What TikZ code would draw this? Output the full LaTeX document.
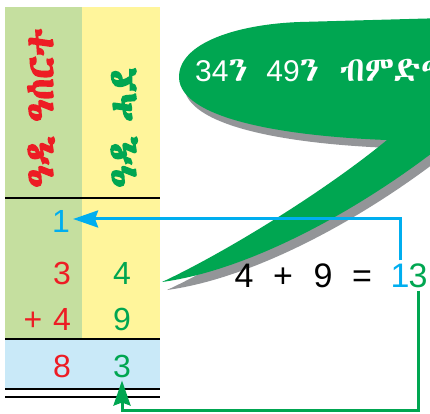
\documentclass[tikz,border=0pt]{standalone}
\usepackage{fontspec}
\setmainfont{Liberation Sans}
\newfontfamily\eth{Abyssinica SIL}[Scale=1.15]
\newfontfamily\ethb{Abyssinica SIL}[FakeBold=4]
\definecolor{colgreen}{HTML}{C5DF9F}
\definecolor{colyellow}{HTML}{FFF59B}
\definecolor{colblue}{HTML}{C9E9F8}
\definecolor{myred}{HTML}{ED1C24}
\definecolor{mygreen}{HTML}{00A651}
\definecolor{mycyan}{HTML}{00AEEF}
\definecolor{shadowgrey}{HTML}{939598}
\usetikzlibrary{arrows.meta}
\begin{document}
\begin{tikzpicture}[x=1pt,y=-1pt,
  rule/.style={line width=2pt,black},
  digit/.style={anchor=base,inner sep=3pt,font=\fontsize{32}{32}\selectfont},
  eqdigit/.style={anchor=base,inner sep=3pt,font=\fontsize{34}{34}\selectfont},
  header/.style={rotate=90,anchor=base west,inner sep=0pt,font=\fontsize{38}{38}\ethb},
  bluearrow/.style={mycyan,line width=3pt,-{Stealth[length=25pt,width=17pt,inset=3pt]}},
  greenarrow/.style={mygreen,line width=3pt,-{Stealth[length=25pt,width=17pt,inset=3pt]}},
  bubble/.style={fill=mygreen},
  bubbleshadow/.style={fill=shadowgrey}]
\useasboundingbox (0,0) rectangle (430,413);
\clip (0,0) rectangle (430,413);

% columns
\fill[colgreen] (5,7) rectangle (82,339);
\fill[colyellow] (82,7) rectangle (160,339);
\fill[colblue] (5,339) rectangle (160,389);
\draw[rule] (5,198) -- (160,198);
\draw[rule] (5,339) -- (160,339);
\draw[rule] (5,389) -- (160,389);
\draw[rule] (5,397) -- (160,397);

% headers
\node[header,text=myred] (htens) at (53,188) {ዓዲ\hspace{14pt}ዓሰርተ};
\node[header,text=mygreen] (hones) at (136,188) {ዓዲ\hspace{14pt}ሓደ};

% speech bubble
\def\bubblepath{(387,140) .. controls (280,136) and (181,118) .. (179,78)
  .. controls (178,42) and (240,24) .. (300,22)
  -- (445,18) -- (445,143)
  .. controls (360,210) and (250,270) .. (162,282)
  .. controls (220,255) and (320,195) .. (387,140) -- cycle}
\fill[bubbleshadow,shift={(5,8)}] \bubblepath;
\fill[bubble] \bubblepath;
\node[anchor=base west,inner sep=0pt,text=white,font=\fontsize{30}{30}\selectfont] (btext) at (195,81)
  {34{\eth ን}\hspace{19pt}49{\eth ን}\hspace{21pt}{\eth ብምድማር}};

% column digits
\node[digit,text=mycyan] (cone) at (61,232) {1};
\node[digit,text=myred] (tthree) at (62,284) {3};
\node[digit,text=mygreen] (ufour) at (122,284) {4};
\node[digit,text=myred] (plus) at (33,330) {+};
\node[digit,text=myred] (tfour) at (62,330) {4};
\node[digit,text=mygreen] (unine) at (122,330) {9};
\node[digit,text=myred] (teight) at (62,377) {8};
\node[digit,text=mygreen] (uthree) at (122,377) {3};

% equation
\node[eqdigit] (efour) at (244,287) {4};
\node[eqdigit] (eplus) at (283,287) {+};
\node[eqdigit] (enine) at (323,287) {9};
\node[eqdigit] (eeq) at (362,287) {=};
\node[eqdigit,text=mycyan] (eone) at (400,287) {1};
\node[eqdigit,text=mygreen] (ethree) at (418,287) {3};

% arrows
\coordinate (gcorner) at (0,410);
\draw[bluearrow] (eone.north) |- ([yshift=2pt]cone.east);
\draw[greenarrow] (ethree.south) -- (ethree.south |- gcorner) -| (uthree.south);
\end{tikzpicture}
\end{document}
